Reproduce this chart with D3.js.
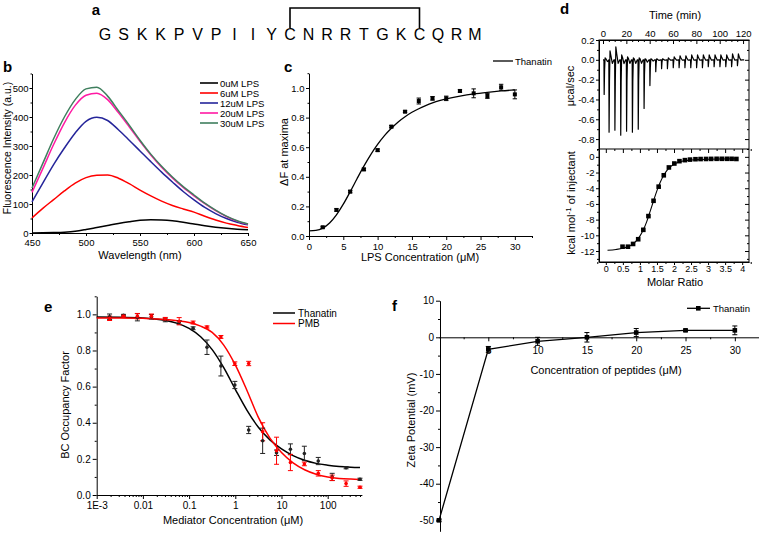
<!DOCTYPE html>
<html><head><meta charset="utf-8">
<script src="https://cdn.jsdelivr.net/npm/d3@7"></script>
<style>
body{margin:0;background:#fff;}
svg{font-family:"Liberation Sans",Arial,Helvetica,sans-serif;display:block;}
</style></head><body>
<svg id="fig" width="760" height="540"></svg>
<script>
// ================= DATA =================
// panel a
const sequence = ["G","S","K","K","P","V","P","I","I","Y","C","N","R","R","T","G","K","C","Q","R","M"];
const bridgeIdx = [10, 17];

// panel b : fluorescence spectra
const wavelengths = [450,460,470,480,490,500,510,520,530,540,550,560,570,580,590,600,610,620,630,640,650];
const lps0  = [0,0.5,1.5,3,6,12,19,26,33,39,44,46,45,42,37,31,25,20,16,13,11];
const lps6  = [52,85,115,145,172,191,199,200,189,170,148,128,110,95,83,72,58,45,34,26,19];
const lps12 = [107,172,236,293,345,385,399,388,356,320,283,246,210,176,143,114,88,67,50,37,28];
const lps20 = [140,222,305,380,440,475,482,460,415,366,316,269,227,190,157,128,101,77,57,41,30];
const lps30 = [155,240,325,400,460,497,503,472,422,372,320,272,230,193,160,131,103,79,58,42,31];
const spectraLabels = ["0uM LPS","6uM LPS","12uM LPS","20uM LPS","30uM LPS"];
const spectraColors = ["#000000","#ff0000","#25259a","#ff1aa3","#3f7f5e"];
const bXTicks = [450,500,550,600,650];
const bYTicks = [0,100,200,300,400,500];

// panel c : binding titration
const cConc = [2,4,6,8,10,12,14,16,18,20,22,24,26,28,30];
const cDeltaF = [0.059,0.176,0.30,0.45,0.58,0.739,0.84,0.912,0.93,0.93,0.98,0.964,0.946,1.005,0.957];
const cErr = [0.006,0.008,0.008,0.008,0.008,0.008,0.006,0.02,0.012,0.015,0.008,0.03,0.016,0.02,0.03];
const cFitConc = [0,1,2,3,4,5,6,7,8,9,10,11,12,13,14,15,16,17,18,19,20,22,24,26,28,30];
const cFitVal = [0.035,0.038,0.053,0.088,0.143,0.215,0.299,0.387,0.472,0.550,0.619,0.678,0.728,0.771,0.806,0.836,0.860,0.881,0.899,0.914,0.926,0.945,0.960,0.971,0.980,0.987];
const cXTicks = [0,5,10,15,20,25,30];
const cYTicks = [0,0.2,0.4,0.6,0.8,1.0];

// panel d : ITC
const itcTimes = [1,5.2,10.2,15.2,20.2,25.2,30.2,35.2,40.2,45.2,50.2,55.2,60.2,65.2,70.2,75.2,80.2,85.2,90.2,95.2,100.2,105.2,110.2,115.2];
const itcPeakMin = [-0.35,-0.73,-0.71,-0.76,-0.72,-0.73,-0.70,-0.49,-0.26,-0.12,-0.09,-0.09,-0.08,-0.08,-0.08,-0.08,-0.08,-0.08,-0.07,-0.07,-0.07,-0.07,-0.07,-0.06];
const itcPeakMax = [0.02,0.09,0.13,0.05,0.03,0.02,0.02,0.01,0.01,0.01,0.01,0.02,0.03,0.04,0.04,0.05,0.05,0.05,0.05,0.05,0.05,0.05,0.06,0.06];
const itcRatio = [0.49,0.65,0.80,0.95,1.10,1.25,1.40,1.55,1.70,1.85,2.01,2.16,2.32,2.47,2.63,2.78,2.94,3.09,3.25,3.40,3.55,3.69,3.83];
const itcHeat = [-11.45,-11.45,-11.1,-10.5,-9.3,-7.55,-5.6,-3.8,-2.35,-1.35,-0.85,-0.55,-0.42,-0.35,-0.3,-0.28,-0.27,-0.26,-0.25,-0.25,-0.25,-0.25,-0.27];
const itcFitRatio = [0.05,0.3,0.5,0.7,0.85,1.0,1.1,1.2,1.3,1.4,1.5,1.6,1.7,1.8,1.9,2.0,2.2,2.4,2.7,3.0,3.4,3.85];
const itcFitHeat = [-11.9,-11.8,-11.65,-11.35,-10.9,-10.1,-9.3,-8.25,-6.95,-5.6,-4.3,-3.2,-2.35,-1.7,-1.25,-0.95,-0.6,-0.45,-0.35,-0.3,-0.27,-0.25];
const timeTicks = [0,20,40,60,80,100,120];
const rawTicks = [-0.8,-0.6,-0.4,-0.2,0,0.2];
const ratioTicks = [0,0.5,1,1.5,2,2.5,3,3.5,4];
const heatTicks = [-12,-10,-8,-6,-4,-2,0];

// panel e : BC displacement
const eConc = [0.0019,0.0038,0.0076,0.0153,0.0305,0.061,0.122,0.244,0.488,0.977,1.95,3.91,7.81,15.6,31.25,62.5,125,250,500];
const eThanatin = [0.987,0.995,0.984,0.987,0.969,0.955,0.923,0.818,0.714,0.609,0.36,0.30,0.234,0.253,0.23,0.188,0.10,0.151,0.087];
const eThanatinErr = [0.015,0.005,0.02,0.012,0.01,0.01,0.008,0.04,0.055,0.02,0.02,0.07,0.015,0.03,0.04,0.02,0.02,0.006,0.006];
const ePMB = [0.978,0.99,0.99,0.99,0.975,0.962,0.955,0.93,0.875,0.727,0.728,0.35,0.245,0.18,0.172,0.12,0.095,0.063,0.043];
const ePMBErr = [0.012,0.005,0.015,0.012,0.008,0.02,0.008,0.006,0.008,0.01,0.012,0.05,0.075,0.045,0.01,0.015,0.015,0.015,0.006];
const eFitConc = [0.001,0.00316,0.01,0.0178,0.0316,0.0562,0.1,0.178,0.316,0.562,1,1.78,3.16,5.62,10,17.8,31.6,56.2,100,178,316,500];
const eFitThanatin = [0.985,0.984,0.98,0.975,0.966,0.950,0.922,0.876,0.805,0.705,0.585,0.47,0.375,0.305,0.255,0.218,0.192,0.175,0.165,0.158,0.154,0.152];
const eFitPMB = [0.98,0.98,0.978,0.975,0.972,0.965,0.955,0.935,0.90,0.83,0.72,0.58,0.43,0.315,0.235,0.178,0.14,0.115,0.1,0.092,0.088,0.086];
const eXTicks = [0.001,0.01,0.1,1,10,100];
const eXTickLabels = ["1E-3","0.01","0.1","1","10","100"];
const eYTicks = [0,0.2,0.4,0.6,0.8,1.0];

// panel f : zeta potential
const fConc = [0,5,10,15,20,25,30];
const fZeta = [-50,-3.3,-1.1,0,1.3,1.9,1.9];
const fErr = [0.3,0.8,1.1,1.3,1.1,0.3,1.2];
const fXTicks = [5,10,15,20,25,30];
const fYTicks = [-50,-40,-30,-20,-10,0,10];

// ================= HELPERS =================
const FONT = '"Liberation Sans", Arial, Helvetica, sans-serif';
const svg = d3.select("#fig");
const TICK_FS = 9.5;

function styleAxis(g, fs) {
  g.attr("font-family", FONT);
  g.selectAll("path.domain").attr("stroke", "#000").attr("stroke-width", 1);
  g.selectAll(".tick line").attr("stroke", "#000").attr("stroke-width", 1);
  g.selectAll(".tick text").attr("font-size", fs || TICK_FS).attr("fill", "#000");
}
function addAxis(axis, tx, ty, fs) {
  const g = svg.append("g").attr("transform", `translate(${tx},${ty})`).call(axis);
  styleAxis(g, fs);
  return g;
}
function addMinor(axis, tx, ty) {
  const g = svg.append("g").attr("transform", `translate(${tx},${ty})`).call(axis.tickFormat(""));
  g.select(".domain").remove();
  g.selectAll(".tick line").attr("stroke", "#000").attr("stroke-width", 1);
  return g;
}
function label(x, y, str, opts = {}) {
  const t = svg.append("text")
    .attr("x", x).attr("y", y)
    .attr("font-family", FONT)
    .attr("font-size", opts.size || 11)
    .attr("font-weight", opts.weight || "normal")
    .attr("text-anchor", opts.anchor || "middle")
    .attr("fill", "#000")
    .text(str);
  if (opts.rotate) t.attr("transform", `rotate(-90,${x},${y})`);
  return t;
}
function errorBars(xs, ys, errs, xScale, yScale, color, cap) {
  const g = svg.append("g");
  xs.forEach((xv, i) => {
    const x = xScale(xv), y1 = yScale(ys[i] - errs[i]), y2 = yScale(ys[i] + errs[i]);
    g.append("line").attr("x1", x).attr("x2", x).attr("y1", y1).attr("y2", y2).attr("stroke", color).attr("stroke-width", 1);
    g.append("line").attr("x1", x - cap).attr("x2", x + cap).attr("y1", y1).attr("y2", y1).attr("stroke", color).attr("stroke-width", 1);
    g.append("line").attr("x1", x - cap).attr("x2", x + cap).attr("y1", y2).attr("y2", y2).attr("stroke", color).attr("stroke-width", 1);
  });
}
function squares(xs, ys, xScale, yScale, size, color) {
  svg.append("g").selectAll("rect").data(xs).join("rect")
    .attr("x", (d) => xScale(d) - size / 2)
    .attr("y", (d, i) => yScale(ys[i]) - size / 2)
    .attr("width", size).attr("height", size).attr("fill", color);
}
const fmt1 = (v) => v.toFixed(1);
const fmtPlain = (v) => String(v);

// ================= PANEL A =================
label(96, 15, "a", { size: 15, weight: "bold" });
const seqX = d3.scaleLinear().domain([0, sequence.length - 1]).range([105, 475]);
sequence.forEach((s, i) => label(seqX(i), 40, s, { size: 16 }));
svg.append("path")
  .attr("d", `M${seqX(bridgeIdx[0])},28V8H${seqX(bridgeIdx[1])}V28`)
  .attr("fill", "none").attr("stroke", "#000").attr("stroke-width", 1.6);

// ================= PANEL B =================
{
  const x = d3.scaleLinear().domain([450, 650]).range([32, 248]);
  const y = d3.scaleLinear().domain([0, 550]).range([233, 73.5]);
  addMinor(d3.axisBottom(x).tickValues([475, 525, 575, 625]).tickSize(2), 0, 233);
  addMinor(d3.axisLeft(y).tickValues([50, 150, 250, 350, 450, 550]).tickSize(1.5), 32, 0);
  addAxis(d3.axisBottom(x).tickValues(bXTicks).tickSize(3).tickPadding(3.5).tickSizeOuter(0).tickFormat(fmtPlain), 0, 233);
  addAxis(d3.axisLeft(y).tickValues(bYTicks).tickSize(2.5).tickPadding(1).tickSizeOuter(0).tickFormat(fmtPlain), 32, 0);
  const series = [lps0, lps6, lps12, lps20, lps30];
  const line = d3.line().x((d, i) => x(wavelengths[i])).y((d) => y(d)).curve(d3.curveMonotoneX);
  series.forEach((s, k) => {
    svg.append("path").attr("d", line(s)).attr("fill", "none")
      .attr("stroke", spectraColors[k]).attr("stroke-width", 1.5);
  });
  // legend
  spectraLabels.forEach((lab, k) => {
    const yy = 83 + k * 10;
    svg.append("line").attr("x1", 200).attr("x2", 218).attr("y1", yy).attr("y2", yy)
      .attr("stroke", spectraColors[k]).attr("stroke-width", 1.6);
    label(220, yy + 3.5, lab, { size: 9.5, anchor: "start" });
  });
  label(3, 72, "b", { size: 15, weight: "bold", anchor: "start" });
  label(10.5, 148, "Fluorescence Intensity (a.u.)", { size: 10.5, rotate: true });
  label(140, 259, "Wavelength (nm)", { size: 11 });
}

// ================= PANEL C =================
{
  const x = d3.scaleLinear().domain([0, 32.5]).range([309, 532]);
  const y = d3.scaleLinear().domain([0, 1.1]).range([236, 73.2]);
  addMinor(d3.axisBottom(x).tickValues([2.5, 7.5, 12.5, 17.5, 22.5, 27.5, 32.5]).tickSize(2), 0, 236);
  addMinor(d3.axisLeft(y).tickValues([0.1, 0.3, 0.5, 0.7, 0.9, 1.1]).tickSize(1.5), 309, 0);
  addAxis(d3.axisBottom(x).tickValues(cXTicks).tickSize(4).tickPadding(3).tickSizeOuter(0).tickFormat(fmtPlain), 0, 236);
  addAxis(d3.axisLeft(y).tickValues(cYTicks).tickSize(3).tickPadding(1.5).tickSizeOuter(0).tickFormat(fmt1), 309, 0);
  const line = d3.line().x((d, i) => x(cFitConc[i])).y((d) => y(d)).curve(d3.curveMonotoneX);
  svg.append("path").attr("d", line(cFitVal)).attr("fill", "none").attr("stroke", "#000").attr("stroke-width", 1.3);
  errorBars(cConc, cDeltaF, cErr, x, y, "#000", 2.2);
  squares(cConc, cDeltaF, x, y, 4, "#000");
  svg.append("line").attr("x1", 493).attr("x2", 513).attr("y1", 61).attr("y2", 61).attr("stroke", "#000").attr("stroke-width", 1.3);
  label(515, 64.5, "Thanatin", { size: 9.5, anchor: "start" });
  label(284, 72, "c", { size: 15, weight: "bold", anchor: "start" });
  label(288, 152, "\u0394F at maxima", { size: 11, rotate: true });
  label(420, 261, "LPS Concentration (\u03bcM)", { size: 11 });
}

// ================= PANEL D =================
{
  const L = 599, R = 749, T = 40, M = 149, B = 262;
  const xt = d3.scaleLinear().domain([-3.43, 125.1]).range([L, R]);
  const yt = d3.scaleLinear().domain([-0.9, 0.2]).range([M, T]);
  const xr = d3.scaleLinear().domain([-0.2, 4.2]).range([L, R]);
  const yr = d3.scaleLinear().domain([-13.4, 1]).range([B, M]);

  // top panel ticks
  const timeMinor = d3.range(5, 125, 5).filter((v) => v % 20 !== 0);
  addMinor(d3.axisTop(xt).tickValues(timeMinor).tickSize(-2), 0, T);
  addAxis(d3.axisTop(xt).tickValues(timeTicks).tickSize(-4).tickPadding(3).tickSizeOuter(0).tickFormat(fmtPlain), 0, T);
  addMinor(d3.axisLeft(yt).tickValues([-0.9, -0.7, -0.5, -0.3, -0.1, 0.1]).tickSize(2), L, 0);
  addAxis(d3.axisLeft(yt).tickValues(rawTicks).tickSize(3).tickPadding(1.5).tickSizeOuter(0).tickFormat(fmt1), L, 0);
  addMinor(d3.axisRight(yt).tickValues([-0.9, -0.7, -0.5, -0.3, -0.1, 0.1]).tickSize(-2), R, 0);
  addMinor(d3.axisRight(yt).tickValues(rawTicks).tickSize(-4), R, 0);

  // bottom panel ticks
  const ratioMinor = d3.range(-0.25, 4.3, 0.25).filter((v) => Math.abs(v * 2 - Math.round(v * 2)) > 0.01);
  addMinor(d3.axisBottom(xr).tickValues(ratioMinor).tickSize(2), 0, B);
  addAxis(d3.axisBottom(xr).tickValues(ratioTicks).tickSize(3).tickPadding(0.5).tickSizeOuter(0).tickFormat(fmtPlain), 0, B, 9);
  addMinor(d3.axisTop(xr).tickValues(ratioTicks).tickSize(-4), 0, M);
  addMinor(d3.axisTop(xr).tickValues(ratioMinor).tickSize(-2), 0, M);
  const heatMinor = [-13, -11, -9, -7, -5, -3, -1, 1];
  addMinor(d3.axisLeft(yr).tickValues(heatMinor).tickSize(2), L, 0);
  addAxis(d3.axisLeft(yr).tickValues(heatTicks).tickSize(3).tickPadding(1.5).tickSizeOuter(0).tickFormat(fmtPlain), L, 0);
  addMinor(d3.axisRight(yr).tickValues(heatMinor).tickSize(-2), R, 0);
  addMinor(d3.axisRight(yr).tickValues(heatTicks).tickSize(-4), R, 0);

  // frames
  svg.append("rect").attr("x", L).attr("y", T).attr("width", R - L).attr("height", B - T)
    .attr("fill", "none").attr("stroke", "#000").attr("stroke-width", 1);
  svg.append("line").attr("x1", L).attr("x2", R).attr("y1", M).attr("y2", M).attr("stroke", "#000").attr("stroke-width", 1.2);

  // raw ITC trace built from injection arrays
  const trace = [[0, 0]];
  itcTimes.forEach((t, i) => {
    const mn = itcPeakMin[i], mx = itcPeakMax[i];
    trace.push([t - 0.2, 0], [t, mn], [t + 0.35, mn * 0.3], [t + 0.8, mx], [t + 1.6, mx * 0.45], [t + 2.8, mn * 0.05], [t + 4.2, 0]);
  });
  trace.push([121, 0]);
  svg.append("path")
    .attr("d", d3.line().x((d) => xt(d[0])).y((d) => yt(d[1]))(trace))
    .attr("fill", "none").attr("stroke", "#000").attr("stroke-width", 1.2).attr("stroke-linejoin", "round");

  // binding isotherm
  const fit = d3.line().x((d, i) => xr(itcFitRatio[i])).y((d) => yr(d)).curve(d3.curveMonotoneX);
  svg.append("path").attr("d", fit(itcFitHeat)).attr("fill", "none").attr("stroke", "#000").attr("stroke-width", 1.1);
  squares(itcRatio, itcHeat, xr, yr, 4.6, "#000");

  label(560, 14, "d", { size: 15, weight: "bold", anchor: "start" });
  label(675, 19, "Time (min)", { size: 11 });
  label(574, 86, "\u03bccal/sec", { size: 11, rotate: true });
  const kl = svg.append("text").attr("font-family", FONT).attr("font-size", 11).attr("fill", "#000")
    .attr("text-anchor", "middle").attr("transform", "translate(575,203) rotate(-90)");
  kl.append("tspan").text("kcal mol");
  kl.append("tspan").attr("dy", -4).attr("font-size", 8).text("-1");
  kl.append("tspan").attr("dy", 4).text(" of injectant");
  label(675, 285.5, "Molar Ratio", { size: 11 });
}

// ================= PANEL E =================
{
  const x = d3.scaleLog().domain([0.001, 550]).range([96.7, 361.9]);
  const y = d3.scaleLinear().domain([0, 1.1]).range([495, 296.3]);
  const logMinor = [];
  [0.001, 0.01, 0.1, 1, 10, 100].forEach((dec) => {
    for (let k = 2; k <= 9; k++) { const v = dec * k; if (v <= 550) logMinor.push(v); }
  });
  addMinor(d3.axisBottom(x).tickValues(logMinor).tickSize(2), 0, 495);
  addMinor(d3.axisLeft(y).tickValues([0.1, 0.3, 0.5, 0.7, 0.9, 1.1]).tickSize(2), 96.7, 0);
  addAxis(d3.axisBottom(x).tickValues(eXTicks).tickSize(4).tickPadding(3).tickSizeOuter(0)
    .tickFormat((d, i) => eXTickLabels[i]), 0, 495, 10);
  addAxis(d3.axisLeft(y).tickValues(eYTicks).tickSize(4).tickPadding(2).tickSizeOuter(0).tickFormat(fmt1), 96.7, 0, 10);

  const lineT = d3.line().x((d, i) => x(eFitConc[i])).y((d) => y(d)).curve(d3.curveMonotoneX);
  svg.append("path").attr("d", lineT(eFitThanatin)).attr("fill", "none").attr("stroke", "#000").attr("stroke-width", 1.5);
  svg.append("path").attr("d", lineT(eFitPMB)).attr("fill", "none").attr("stroke", "#ff0000").attr("stroke-width", 1.5);
  errorBars(eConc, eThanatin, eThanatinErr, x, y, "#222", 2.5);
  errorBars(eConc, ePMB, ePMBErr, x, y, "#ff0000", 2.5);
  svg.append("g").selectAll("circle").data(eConc).join("circle")
    .attr("cx", (d) => x(d)).attr("cy", (d, i) => y(eThanatin[i])).attr("r", 1.8).attr("fill", "#222");
  svg.append("g").selectAll("circle").data(eConc).join("circle")
    .attr("cx", (d) => x(d)).attr("cy", (d, i) => y(ePMB[i])).attr("r", 1.8).attr("fill", "#ff0000");

  svg.append("line").attr("x1", 273).attr("x2", 295).attr("y1", 313).attr("y2", 313).attr("stroke", "#000").attr("stroke-width", 1.5);
  label(298, 316.5, "Thanatin", { size: 10, anchor: "start" });
  svg.append("line").attr("x1", 273).attr("x2", 295).attr("y1", 323.5).attr("y2", 323.5).attr("stroke", "#ff0000").attr("stroke-width", 1.5);
  label(298, 327, "PMB", { size: 10, anchor: "start" });

  label(44, 312, "e", { size: 15, weight: "bold", anchor: "start" });
  label(69, 405, "BC Occupancy Factor", { size: 11, rotate: true });
  label(233, 524, "Mediator Concentration (\u03bcM)", { size: 11 });
}

// ================= PANEL F =================
{
  const x = d3.scaleLinear().domain([0, 32.4]).range([439, 758.5]);
  const y = d3.scaleLinear().domain([-53, 10]).range([531.3, 300.7]);
  addMinor(d3.axisBottom(x).tickValues([2.5, 7.5, 12.5, 17.5, 22.5, 27.5]).tickSize(2), 0, y(0));
  addAxis(d3.axisBottom(x).tickValues(fXTicks).tickSize(4).tickPadding(6).tickSizeOuter(0).tickFormat(fmtPlain), 0, y(0), 10);
  addMinor(d3.axisLeft(y).tickValues([-45, -35, -25, -15, -5, 5]).tickSize(2), 440, 0);
  addAxis(d3.axisLeft(y).tickValues(fYTicks).tickSize(4).tickPadding(2).tickSizeOuter(0).tickFormat(fmtPlain), 440, 0, 10);

  const line = d3.line().x((d, i) => x(fConc[i])).y((d) => y(d));
  svg.append("path").attr("d", line(fZeta)).attr("fill", "none").attr("stroke", "#000").attr("stroke-width", 1.3);
  errorBars(fConc, fZeta, fErr, x, y, "#000", 2.5);
  squares(fConc, fZeta, x, y, 4.6, "#000");

  svg.append("line").attr("x1", 687).attr("x2", 710).attr("y1", 308.3).attr("y2", 308.3).attr("stroke", "#000").attr("stroke-width", 1.3);
  svg.append("rect").attr("x", 696).attr("y", 306).attr("width", 4.6).attr("height", 4.6).attr("fill", "#000");
  label(713, 311.5, "Thanatin", { size: 9.5, anchor: "start" });

  label(392, 311, "f", { size: 15, weight: "bold", anchor: "start" });
  label(415, 420, "Zeta Potential (mV)", { size: 11, rotate: true });
  label(606, 374, "Concentration of peptides (\u03bcM)", { size: 11 });
}
</script>
</body></html>
